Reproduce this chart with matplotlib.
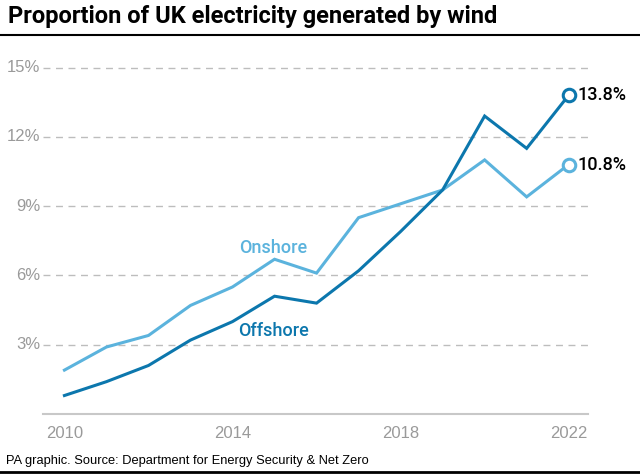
import matplotlib
matplotlib.use("Agg")
import matplotlib.pyplot as plt

plt.rcParams['font.family'] = ['Liberation Sans', 'DejaVu Sans']

# Daten (Anteil in %)
years = list(range(2010, 2023))
onshore = [1.9, 2.9, 3.4, 4.7, 5.5, 6.7, 6.1, 8.5, 9.1, 9.7, 11.0, 9.4, 10.8]
offshore = [0.8, 1.4, 2.1, 3.2, 4.0, 5.1, 4.8, 6.2, 7.9, 9.7, 12.9, 11.5, 13.8]
yticks = [3, 6, 9, 12, 15]
xticks = [2010, 2014, 2018, 2022]

on_col = '#5bb3dd'
off_col = '#0c77ad'
grey = '#9a9a9a'
medium = ['Roboto', 'Liberation Sans']

fig = plt.figure(figsize=(6.4, 4.75), dpi=100)
ax = fig.add_axes([43 / 640, 1 - 414 / 475, 545 / 640, 353.4 / 475])

ax.plot(years, onshore, color=on_col, lw=2.2, solid_joinstyle='miter')
ax.plot(years, offshore, color=off_col, lw=2.2, solid_joinstyle='miter')
ax.plot(years[-1], onshore[-1], 'o', ms=9, mfc='white', mec=on_col, mew=2.2)
ax.plot(years[-1], offshore[-1], 'o', ms=9, mfc='white', mec=off_col, mew=2.2)

ax.text(years[-1] + 0.22, onshore[-1], f'{onshore[-1]}%', fontsize=13, family=medium,
        fontweight='medium', va='center', ha='left', color='black')
ax.text(years[-1] + 0.22, offshore[-1], f'{offshore[-1]}%', fontsize=13, family=medium,
        fontweight='medium', va='center', ha='left', color='black')

ax.text(2014.96, 7.2, 'Onshore', color=on_col, fontsize=13, family=medium,
        fontweight='medium', ha='center', va='center')
ax.text(2014.98, 3.6, 'Offshore', color=off_col, fontsize=13, family=medium,
        fontweight='medium', ha='center', va='center')

ax.set_xlim(2009.49, 2022.46)
ax.set_ylim(0, 15.3)

for y in yticks:
    ax.axhline(y, color='#bdbdbd', lw=1, ls=(0, (5, 4)), zorder=0)
    ax.text(-0.005, y, f'{y}%', transform=ax.get_yaxis_transform(), ha='right',
            va='center', color=grey, fontsize=12)

for spine in ['top', 'right', 'left']:
    ax.spines[spine].set_visible(False)
ax.spines['bottom'].set_color('#c8c8c8')
ax.spines['bottom'].set_linewidth(1.5)
ax.set_yticks([])
ax.set_xticks(xticks)
ax.set_xticklabels([str(x) for x in xticks])
ax.tick_params(axis='x', length=0, pad=9, labelsize=12, labelcolor=grey)

fig.text(8 / 640, 1 - 17 / 475, 'Proportion of UK electricity generated by wind',
         fontsize=17, fontweight='bold', va='center', ha='left', family=medium)
fig.add_artist(plt.Line2D([0, 1], [1 - 35 / 475, 1 - 35 / 475], color='black', lw=1.5))
fig.text(6 / 640, 1 - 461 / 475, 'PA graphic. Source: Department for Energy Security & Net Zero',
         fontsize=9.3, va='center', ha='left')
fig.add_artist(plt.Line2D([0, 1], [1 - 472 / 475, 1 - 472 / 475], color='black', lw=2))

fig.savefig('out.png', dpi=100)
